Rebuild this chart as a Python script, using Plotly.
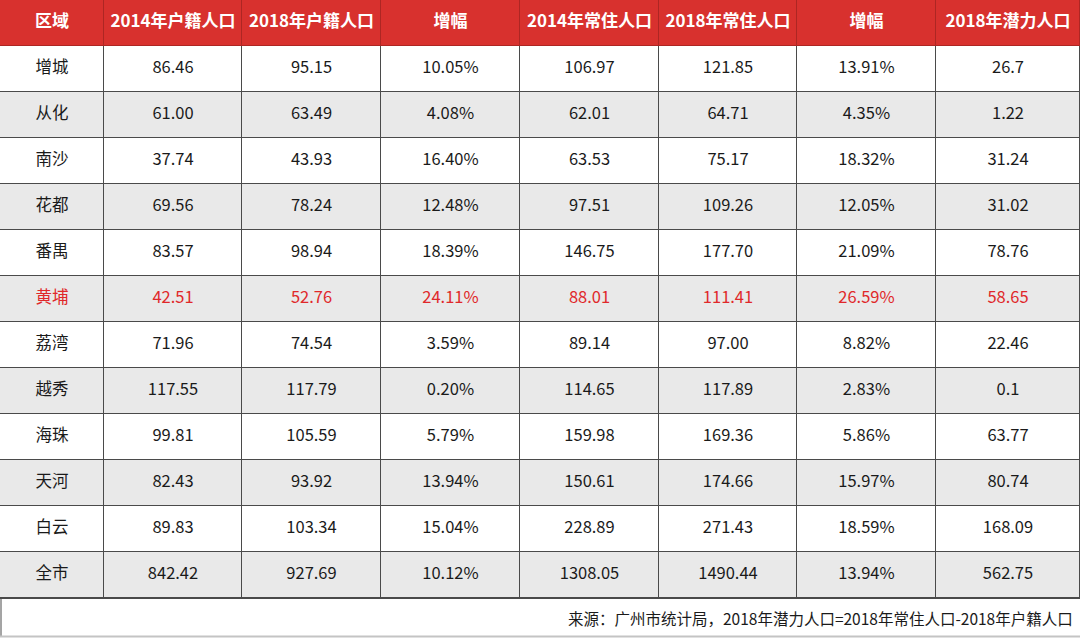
import plotly.graph_objects as go

header = ["区域", "2014年户籍人口", "2018年户籍人口", "增幅", "2014年常住人口", "2018年常住人口", "增幅", "2018年潜力人口"]
districts = ["增城", "从化", "南沙", "花都", "番禺", "黄埔", "荔湾", "越秀", "海珠", "天河", "白云", "全市"]
hukou_2014 = ["86.46", "61.00", "37.74", "69.56", "83.57", "42.51", "71.96", "117.55", "99.81", "82.43", "89.83", "842.42"]
hukou_2018 = ["95.15", "63.49", "43.93", "78.24", "98.94", "52.76", "74.54", "117.79", "105.59", "93.92", "103.34", "927.69"]
hukou_growth = ["10.05%", "4.08%", "16.40%", "12.48%", "18.39%", "24.11%", "3.59%", "0.20%", "5.79%", "13.94%", "15.04%", "10.12%"]
resident_2014 = ["106.97", "62.01", "63.53", "97.51", "146.75", "88.01", "89.14", "114.65", "159.98", "150.61", "228.89", "1308.05"]
resident_2018 = ["121.85", "64.71", "75.17", "109.26", "177.70", "111.41", "97.00", "117.89", "169.36", "174.66", "271.43", "1490.44"]
resident_growth = ["13.91%", "4.35%", "18.32%", "12.05%", "21.09%", "26.59%", "8.82%", "2.83%", "5.86%", "15.97%", "18.59%", "13.94%"]
potential_2018 = ["26.7", "1.22", "31.24", "31.02", "78.76", "58.65", "22.46", "0.1", "63.77", "80.74", "168.09", "562.75"]
highlight = "黄埔"
source_note = "来源：广州市统计局，2018年潜力人口=2018年常住人口-2018年户籍人口"

columns = [districts, hukou_2014, hukou_2018, hukou_growth, resident_2014, resident_2018, resident_growth, potential_2018]

# ---- layout geometry (styling) ----
W, H = 1080, 638
col_edges = [0, 104, 242, 381, 520, 659, 797, 936, 1080]
row_h = 46
nrows = len(districts)
ncols = len(columns)
row_edges = [i * row_h for i in range(nrows + 2)]  # header + data rows
table_bottom = row_edges[-1]

col_centers = [(col_edges[i] + col_edges[i + 1]) / 2 for i in range(ncols)]
row_centers = [(row_edges[i] + row_edges[i + 1]) / 2 for i in range(nrows + 1)]

# fill codes: 2 header, 1 gray row, 0 white row
z = [[2] * ncols] + [[0 if i % 2 == 0 else 1] * ncols for i in range(nrows)]

FONT = "Noto Sans CJK SC"
fig = go.Figure()
fig.add_trace(go.Heatmap(
    x=col_edges, y=row_edges, z=z,
    zmin=0, zmax=2,
    colorscale=[[0, "#ffffff"], [0.5, "#e9e9e9"], [1, "#d8312e"]],
    showscale=False, xgap=1, ygap=1, hoverinfo="skip",
))

# header text
fig.add_trace(go.Scatter(
    x=col_centers, y=[row_centers[0]] * ncols,
    mode="text", text=[f"<b>{h}</b>" for h in header],
    textposition="middle center",
    textfont=dict(family=FONT, size=17, color="#ffffff"),
    hoverinfo="skip",
))

# body text
xs, ys, ts, cs = [], [], [], []
for ci, col in enumerate(columns):
    for ri, val in enumerate(col):
        xs.append(col_centers[ci])
        ys.append(row_centers[ri + 1])
        ts.append(val)
        cs.append("#e0282a" if districts[ri] == highlight else "#1a1a1a")
fig.add_trace(go.Scatter(
    x=xs, y=ys, mode="text", text=ts,
    textposition="middle center",
    textfont=dict(family=FONT, size=16.5, color=cs),
    hoverinfo="skip",
))

# borders under the heatmap (visible through gaps)
fig.add_shape(type="rect", x0=0, x1=W, y0=0, y1=row_h, layer="below",
              fillcolor="#ad2623", line=dict(width=0))
fig.add_shape(type="rect", x0=0, x1=W, y0=row_h, y1=table_bottom + 1, layer="below",
              fillcolor="#4a4a4a", line=dict(width=0))
# footer frame
fig.add_shape(type="line", x0=1, x1=1, y0=table_bottom, y1=H - 2,
              line=dict(color="#4a4a4a", width=1))
fig.add_shape(type="line", x0=0, x1=W, y0=H - 1.5, y1=H - 1.5,
              line=dict(color="#c4c4c4", width=2))

fig.add_annotation(
    text=source_note, x=1075, y=(table_bottom + H) / 2,
    xanchor="right", yanchor="middle", showarrow=False,
    font=dict(family=FONT, size=15.5, color="#1a1a1a"),
)

fig.update_xaxes(range=[0, W], visible=False, fixedrange=True)
fig.update_yaxes(range=[H, 0], visible=False, fixedrange=True)
fig.update_layout(
    width=W, height=H,
    margin=dict(l=0, r=0, t=0, b=0),
    paper_bgcolor="#ffffff", plot_bgcolor="#ffffff",
    showlegend=False,
)
fig.write_html(
    "out.html",
    config={"displayModeBar": False},
    post_script="document.body.style.margin='0';document.body.style.overflow='hidden';",
)
